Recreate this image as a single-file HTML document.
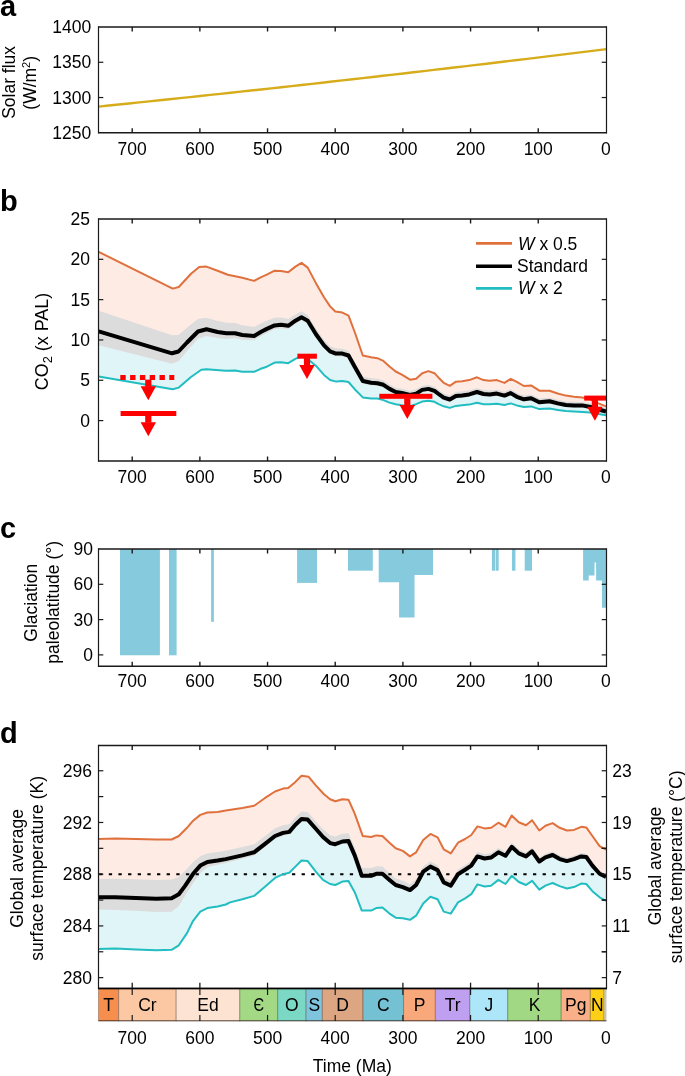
<!DOCTYPE html>
<html><head><meta charset="utf-8"><style>
html,body{margin:0;padding:0;background:#fff;}
svg{display:block;will-change:transform;font-family:"Liberation Sans", sans-serif;font-size:17.5px;fill:#000;}
</style></head><body>
<svg width="685" height="1076" viewBox="0 0 685 1076">
<text x="0" y="15.6" font-weight="bold" font-size="29">a</text>
<polyline points="98.5,106.6 108.66,105.56 118.82,104.52 128.98,103.47 139.14,102.42 149.3,101.36 159.46,100.3 169.62,99.23 179.78,98.16 189.94,97.09 200.1,96.01 210.26,94.93 220.42,93.84 230.58,92.74 240.74,91.65 250.9,90.54 261.06,89.44 271.22,88.33 281.38,87.21 291.54,86.09 301.7,84.97 311.86,83.84 322.02,82.7 332.18,81.56 342.34,80.42 352.5,79.27 362.66,78.12 372.82,76.96 382.98,75.8 393.14,74.64 403.3,73.47 413.46,72.29 423.62,71.11 433.78,69.93 443.94,68.74 454.1,67.55 464.26,66.35 474.42,65.15 484.58,63.94 494.74,62.73 504.9,61.51 515.06,60.29 525.22,59.07 535.38,57.84 545.54,56.61 555.7,55.37 565.86,54.12 576.02,52.88 586.18,51.62 596.34,50.37 606.5,49.11" fill="none" stroke="#D7AC1B" stroke-width="2.4"/>
<path d="M98.5,27H606.5M98.5,132.8H606.5" stroke="#1a1a1a" stroke-width="1.5" fill="none"/>
<path d="M98.5,26.25V133.55M606.5,26.25V133.55" stroke="#1a1a1a" stroke-width="1.2" fill="none"/>
<line x1="538.23" y1="132.8" x2="538.23" y2="128.3" stroke="#1a1a1a" stroke-width="1.4"/>
<line x1="538.23" y1="27" x2="538.23" y2="31.5" stroke="#1a1a1a" stroke-width="1.4"/>
<line x1="470.56" y1="132.8" x2="470.56" y2="128.3" stroke="#1a1a1a" stroke-width="1.4"/>
<line x1="470.56" y1="27" x2="470.56" y2="31.5" stroke="#1a1a1a" stroke-width="1.4"/>
<line x1="402.89" y1="132.8" x2="402.89" y2="128.3" stroke="#1a1a1a" stroke-width="1.4"/>
<line x1="402.89" y1="27" x2="402.89" y2="31.5" stroke="#1a1a1a" stroke-width="1.4"/>
<line x1="335.22" y1="132.8" x2="335.22" y2="128.3" stroke="#1a1a1a" stroke-width="1.4"/>
<line x1="335.22" y1="27" x2="335.22" y2="31.5" stroke="#1a1a1a" stroke-width="1.4"/>
<line x1="267.55" y1="132.8" x2="267.55" y2="128.3" stroke="#1a1a1a" stroke-width="1.4"/>
<line x1="267.55" y1="27" x2="267.55" y2="31.5" stroke="#1a1a1a" stroke-width="1.4"/>
<line x1="199.88" y1="132.8" x2="199.88" y2="128.3" stroke="#1a1a1a" stroke-width="1.4"/>
<line x1="199.88" y1="27" x2="199.88" y2="31.5" stroke="#1a1a1a" stroke-width="1.4"/>
<line x1="132.21" y1="132.8" x2="132.21" y2="128.3" stroke="#1a1a1a" stroke-width="1.4"/>
<line x1="132.21" y1="27" x2="132.21" y2="31.5" stroke="#1a1a1a" stroke-width="1.4"/>
<line x1="98.5" y1="97.53" x2="103.3" y2="97.53" stroke="#1a1a1a" stroke-width="1.2"/>
<line x1="606.5" y1="97.53" x2="601.7" y2="97.53" stroke="#1a1a1a" stroke-width="1.2"/>
<line x1="98.5" y1="62.27" x2="103.3" y2="62.27" stroke="#1a1a1a" stroke-width="1.2"/>
<line x1="606.5" y1="62.27" x2="601.7" y2="62.27" stroke="#1a1a1a" stroke-width="1.2"/>
<text x="605.9" y="154.8" text-anchor="middle">0</text>
<text x="538.23" y="154.8" text-anchor="middle">100</text>
<text x="470.56" y="154.8" text-anchor="middle">200</text>
<text x="402.89" y="154.8" text-anchor="middle">300</text>
<text x="335.22" y="154.8" text-anchor="middle">400</text>
<text x="267.55" y="154.8" text-anchor="middle">500</text>
<text x="199.88" y="154.8" text-anchor="middle">600</text>
<text x="132.21" y="154.8" text-anchor="middle">700</text>
<text x="91.3" y="138.9" text-anchor="end">1250</text>
<text x="91.3" y="103.63" text-anchor="end">1300</text>
<text x="91.3" y="68.37" text-anchor="end">1350</text>
<text x="91.3" y="33.1" text-anchor="end">1400</text>
<text transform="translate(14.9,82.4) rotate(-90)" text-anchor="middle">Solar flux</text>
<text transform="translate(35.5,82.8) rotate(-90)" text-anchor="middle">(W/m<tspan font-size="11" dy="-6">2</tspan><tspan dy="6">)</tspan></text>
<polygon points="98.7,251.9 172.7,288.6 178.8,287 191,273.7 199.2,267 206.4,266.6 217.6,270.7 227.8,274.7 242.3,277.8 254.1,280.9 260.7,277.4 266.8,274.7 274.6,270.7 281.1,271.1 288.2,272.3 295.4,266.6 301.5,262.9 307.7,267.6 315.8,282.9 324,297.2 330.1,306.4 335.3,311.5 342.4,312.6 348.5,315.6 354.7,332 362.8,355.5 371.1,357.2 377.3,358.2 383.4,360.9 389.5,366.4 395.7,371.5 401.8,374.6 410,379.7 416.1,378.7 422.2,373.2 428.4,371.1 434.5,373.2 438.6,377.7 443.7,382.8 449.8,385.8 455.9,381.7 462.1,381.3 469.2,380.1 477,377.3 483.5,380.1 489.7,380.7 496.8,380.1 504.5,382.9 510.7,378.8 516.8,381.9 523.9,386 531.1,385.4 539.3,390.7 549.5,390.7 557.7,393.5 565.8,395.6 574,396.8 582.2,397.6 590.4,399.3 598.5,403.4 606,406.4 606,411.5 598.5,409.5 590.4,407 582.2,405.4 574,405.4 565.8,405 557.7,403.4 549.5,401.3 539.3,402.3 531.1,398.2 523.9,399.3 516.8,396.8 510.7,393.1 504.5,395.6 496.8,393.6 489.7,394.4 483.5,394 477,392 469.2,394.4 462.1,395.4 455.9,396 449.8,399.5 443.7,397.7 438.6,394 434.5,390.9 428.4,388.9 422.2,389.9 416.1,393.6 410,395 401.8,393 395.7,392 389.5,388.9 383.4,384.8 377.3,383.2 371.1,382.8 362.8,381 354.7,366.7 348.5,355.5 342.4,353.6 335.3,353.4 330.1,351.4 324,345.3 315.8,334 307.7,320.7 301.5,317.3 295.4,320.7 288.2,325.8 281.1,324.8 274.6,325.4 266.8,328.9 260.7,332 254.1,336 242.3,335 235,333.2 226.4,333.3 217.6,332 206.5,329.3 198,331.5 187,342.5 178.5,351.5 172,353.3 98.7,331.3" fill="#FDEBE4"/>
<polygon points="98.7,331.3 172,353.3 178.5,351.5 187,342.5 198,331.5 206.5,329.3 217.6,332 226.4,333.3 235,333.2 242.3,335 254.1,336 260.7,332 266.8,328.9 274.6,325.4 281.1,324.8 288.2,325.8 295.4,320.7 301.5,317.3 307.7,320.7 315.8,334 324,345.3 330.1,351.4 335.3,353.4 342.4,353.6 348.5,355.5 354.7,366.7 362.8,381 371.1,382.8 377.3,383.2 383.4,384.8 389.5,388.9 395.7,392 401.8,393 410,395 416.1,393.6 422.2,389.9 428.4,388.9 434.5,390.9 438.6,394 443.7,397.7 449.8,399.5 455.9,396 462.1,395.4 469.2,394.4 477,392 483.5,394 489.7,394.4 496.8,393.6 504.5,395.6 510.7,393.1 516.8,396.8 523.9,399.3 531.1,398.2 539.3,402.3 549.5,401.3 557.7,403.4 565.8,405 574,405.4 582.2,405.4 590.4,407 598.5,409.5 606,411.5 606,415.2 598.5,414 590.4,412.6 582.2,411.9 574,411.5 565.8,411.1 557.7,409.9 549.5,408.5 539.3,409.1 531.1,406.4 523.9,407 516.8,405.4 510.7,403.4 504.5,405 496.8,403.8 489.7,404.2 483.5,404.2 477,402.8 469.2,404.6 462.1,405.3 455.9,405.9 449.8,407.9 443.7,406.3 438.6,404.2 434.5,401.8 428.4,400.8 422.2,401.6 416.1,404.2 410,406.3 401.8,405.3 395.7,404.2 389.5,402.6 383.4,400.1 377.3,398.5 371.1,398.5 362.8,397.4 354.7,389.2 348.5,382 342.4,381 336.3,381.6 330.1,380 324,374.9 315.8,365.7 307.7,359 301.5,356.1 295.4,358.9 288.2,363.2 281.1,362.2 274.6,362.6 266.8,366.7 260.7,368.8 254.1,371.8 242.3,371.8 235,370.4 225.8,370.8 206.4,369.2 201.3,369.8 191,377 178.8,387.6 172.7,389.2 98.7,376.5" fill="#E0F5F7"/>
<polygon points="98.7,310.82 172,335.3 178.5,334.89 187,327.71 198,319.07 206.5,317.65 217.6,320.94 226.4,322.71 235,323.07 242.3,325.26 254.1,327 260.7,323.43 266.8,320.73 274.6,317.74 281.1,317.56 288.2,319.03 295.4,314.4 301.5,311.34 307.7,314.89 315.8,328.39 324,339.9 330.1,346.15 335.3,348.28 342.4,348.66 348.5,350.71 354.7,362.07 362.8,376.51 371.1,378.35 377.3,378.78 383.4,380.4 389.5,384.53 395.7,387.66 401.8,388.69 410,390.72 416.1,389.35 422.2,385.68 428.4,384.71 434.5,386.73 438.6,389.85 443.7,393.57 449.8,395.4 455.9,391.93 462.1,391.36 469.2,390.39 477,388.02 483.5,390.05 489.7,390.48 496.8,389.71 504.5,391.75 510.7,389.27 516.8,393 523.9,395.53 531.1,394.47 539.3,398.6 549.5,397.65 557.7,399.78 565.8,401.42 574,401.86 582.2,401.89 590.4,403.53 598.5,406.07 606,408.1 606,413.7 598.5,411.71 590.4,409.23 582.2,407.64 574,407.65 565.8,407.27 557.7,405.68 549.5,403.59 539.3,404.61 531.1,400.52 523.9,401.63 516.8,399.15 510.7,395.45 504.5,397.97 496.8,395.98 489.7,396.79 483.5,396.4 477,394.41 469.2,396.82 462.1,397.83 455.9,398.44 449.8,401.95 443.7,400.16 438.6,396.47 434.5,393.38 428.4,391.39 422.2,392.4 416.1,396.11 410,397.52 401.8,395.53 395.7,394.54 389.5,391.45 383.4,387.36 377.3,385.77 371.1,385.38 362.8,383.6 354.7,369.35 348.5,358.21 342.4,356.38 335.3,356.25 330.1,354.3 324,348.26 315.8,337.04 307.7,323.82 301.5,320.49 295.4,324.02 288.2,329.3 281.1,328.48 274.6,329.25 266.8,332.95 260.7,336.2 254.1,340.37 242.3,339.74 235,338.33 226.4,338.89 217.6,338.06 206.5,335.95 198,338.75 187,351.12 178.5,361.19 172,363.8 98.7,345.27" fill="#DCDCDC"/>
<polyline points="98.7,251.9 172.7,288.6 178.8,287 191,273.7 199.2,267 206.4,266.6 217.6,270.7 227.8,274.7 242.3,277.8 254.1,280.9 260.7,277.4 266.8,274.7 274.6,270.7 281.1,271.1 288.2,272.3 295.4,266.6 301.5,262.9 307.7,267.6 315.8,282.9 324,297.2 330.1,306.4 335.3,311.5 342.4,312.6 348.5,315.6 354.7,332 362.8,355.5 371.1,357.2 377.3,358.2 383.4,360.9 389.5,366.4 395.7,371.5 401.8,374.6 410,379.7 416.1,378.7 422.2,373.2 428.4,371.1 434.5,373.2 438.6,377.7 443.7,382.8 449.8,385.8 455.9,381.7 462.1,381.3 469.2,380.1 477,377.3 483.5,380.1 489.7,380.7 496.8,380.1 504.5,382.9 510.7,378.8 516.8,381.9 523.9,386 531.1,385.4 539.3,390.7 549.5,390.7 557.7,393.5 565.8,395.6 574,396.8 582.2,397.6 590.4,399.3 598.5,403.4 606,406.4" fill="none" stroke="#E0703C" stroke-width="2" stroke-linejoin="round"/>
<polyline points="98.7,376.5 172.7,389.2 178.8,387.6 191,377 201.3,369.8 206.4,369.2 225.8,370.8 235,370.4 242.3,371.8 254.1,371.8 260.7,368.8 266.8,366.7 274.6,362.6 281.1,362.2 288.2,363.2 295.4,358.9 301.5,356.1 307.7,359 315.8,365.7 324,374.9 330.1,380 336.3,381.6 342.4,381 348.5,382 354.7,389.2 362.8,397.4 371.1,398.5 377.3,398.5 383.4,400.1 389.5,402.6 395.7,404.2 401.8,405.3 410,406.3 416.1,404.2 422.2,401.6 428.4,400.8 434.5,401.8 438.6,404.2 443.7,406.3 449.8,407.9 455.9,405.9 462.1,405.3 469.2,404.6 477,402.8 483.5,404.2 489.7,404.2 496.8,403.8 504.5,405 510.7,403.4 516.8,405.4 523.9,407 531.1,406.4 539.3,409.1 549.5,408.5 557.7,409.9 565.8,411.1 574,411.5 582.2,411.9 590.4,412.6 598.5,414 606,415.2" fill="none" stroke="#21BDC1" stroke-width="2" stroke-linejoin="round"/>
<polyline points="98.7,331.3 172,353.3 178.5,351.5 187,342.5 198,331.5 206.5,329.3 217.6,332 226.4,333.3 235,333.2 242.3,335 254.1,336 260.7,332 266.8,328.9 274.6,325.4 281.1,324.8 288.2,325.8 295.4,320.7 301.5,317.3 307.7,320.7 315.8,334 324,345.3 330.1,351.4 335.3,353.4 342.4,353.6 348.5,355.5 354.7,366.7 362.8,381 371.1,382.8 377.3,383.2 383.4,384.8 389.5,388.9 395.7,392 401.8,393 410,395 416.1,393.6 422.2,389.9 428.4,388.9 434.5,390.9 438.6,394 443.7,397.7 449.8,399.5 455.9,396 462.1,395.4 469.2,394.4 477,392 483.5,394 489.7,394.4 496.8,393.6 504.5,395.6 510.7,393.1 516.8,396.8 523.9,399.3 531.1,398.2 539.3,402.3 549.5,401.3 557.7,403.4 565.8,405 574,405.4 582.2,405.4 590.4,407 598.5,409.5 606,411.5" fill="none" stroke="#000" stroke-width="4" stroke-linejoin="round"/>
<line x1="120.3" y1="377.6" x2="174.3" y2="377.6" stroke="#FF0000" stroke-width="5.0" stroke-dasharray="5.4 4.4"/><rect x="145.2" y="379.6" width="6.2" height="7.2" fill="#FF0000"/><polygon points="140.6,386.3 156,386.3 148.3,400.3" fill="#FF0000"/>
<rect x="120.6" y="411" width="55.7" height="5" fill="#FF0000"/><rect x="145.2" y="415.5" width="6.2" height="7.2" fill="#FF0000"/><polygon points="140.6,422.2 156,422.2 148.3,436.2" fill="#FF0000"/>
<rect x="297.4" y="353.7" width="19.5" height="5" fill="#FF0000"/><rect x="303.9" y="358.2" width="6.2" height="7.2" fill="#FF0000"/><polygon points="299.3,364.9 314.7,364.9 307,378.9" fill="#FF0000"/>
<rect x="379.3" y="393.8" width="53.1" height="5" fill="#FF0000"/><rect x="404.2" y="398.3" width="6.2" height="7.2" fill="#FF0000"/><polygon points="399.6,405 415,405 407.3,419" fill="#FF0000"/>
<rect x="584.2" y="395.6" width="22.3" height="5" fill="#FF0000"/><rect x="591.8" y="400.1" width="6.2" height="7.2" fill="#FF0000"/><polygon points="587.2,406.8 602.6,406.8 594.9,420.8" fill="#FF0000"/>
<path d="M98.5,219H606.5M98.5,461H606.5" stroke="#1a1a1a" stroke-width="1.5" fill="none"/>
<path d="M98.5,218.25V461.75M606.5,218.25V461.75" stroke="#1a1a1a" stroke-width="1.2" fill="none"/>
<line x1="538.23" y1="461" x2="538.23" y2="456.5" stroke="#1a1a1a" stroke-width="1.4"/>
<line x1="538.23" y1="219" x2="538.23" y2="223.5" stroke="#1a1a1a" stroke-width="1.4"/>
<line x1="470.56" y1="461" x2="470.56" y2="456.5" stroke="#1a1a1a" stroke-width="1.4"/>
<line x1="470.56" y1="219" x2="470.56" y2="223.5" stroke="#1a1a1a" stroke-width="1.4"/>
<line x1="402.89" y1="461" x2="402.89" y2="456.5" stroke="#1a1a1a" stroke-width="1.4"/>
<line x1="402.89" y1="219" x2="402.89" y2="223.5" stroke="#1a1a1a" stroke-width="1.4"/>
<line x1="335.22" y1="461" x2="335.22" y2="456.5" stroke="#1a1a1a" stroke-width="1.4"/>
<line x1="335.22" y1="219" x2="335.22" y2="223.5" stroke="#1a1a1a" stroke-width="1.4"/>
<line x1="267.55" y1="461" x2="267.55" y2="456.5" stroke="#1a1a1a" stroke-width="1.4"/>
<line x1="267.55" y1="219" x2="267.55" y2="223.5" stroke="#1a1a1a" stroke-width="1.4"/>
<line x1="199.88" y1="461" x2="199.88" y2="456.5" stroke="#1a1a1a" stroke-width="1.4"/>
<line x1="199.88" y1="219" x2="199.88" y2="223.5" stroke="#1a1a1a" stroke-width="1.4"/>
<line x1="132.21" y1="461" x2="132.21" y2="456.5" stroke="#1a1a1a" stroke-width="1.4"/>
<line x1="132.21" y1="219" x2="132.21" y2="223.5" stroke="#1a1a1a" stroke-width="1.4"/>
<line x1="98.5" y1="259.32" x2="103.3" y2="259.32" stroke="#1a1a1a" stroke-width="1.2"/>
<line x1="606.5" y1="259.32" x2="601.7" y2="259.32" stroke="#1a1a1a" stroke-width="1.2"/>
<line x1="98.5" y1="299.64" x2="103.3" y2="299.64" stroke="#1a1a1a" stroke-width="1.2"/>
<line x1="606.5" y1="299.64" x2="601.7" y2="299.64" stroke="#1a1a1a" stroke-width="1.2"/>
<line x1="98.5" y1="339.96" x2="103.3" y2="339.96" stroke="#1a1a1a" stroke-width="1.2"/>
<line x1="606.5" y1="339.96" x2="601.7" y2="339.96" stroke="#1a1a1a" stroke-width="1.2"/>
<line x1="98.5" y1="380.28" x2="103.3" y2="380.28" stroke="#1a1a1a" stroke-width="1.2"/>
<line x1="606.5" y1="380.28" x2="601.7" y2="380.28" stroke="#1a1a1a" stroke-width="1.2"/>
<line x1="98.5" y1="420.6" x2="103.3" y2="420.6" stroke="#1a1a1a" stroke-width="1.2"/>
<line x1="606.5" y1="420.6" x2="601.7" y2="420.6" stroke="#1a1a1a" stroke-width="1.2"/>
<text x="605.9" y="483" text-anchor="middle">0</text>
<text x="538.23" y="483" text-anchor="middle">100</text>
<text x="470.56" y="483" text-anchor="middle">200</text>
<text x="402.89" y="483" text-anchor="middle">300</text>
<text x="335.22" y="483" text-anchor="middle">400</text>
<text x="267.55" y="483" text-anchor="middle">500</text>
<text x="199.88" y="483" text-anchor="middle">600</text>
<text x="132.21" y="483" text-anchor="middle">700</text>
<text x="90" y="225.1" text-anchor="end">25</text>
<text x="90" y="265.42" text-anchor="end">20</text>
<text x="90" y="305.74" text-anchor="end">15</text>
<text x="90" y="346.06" text-anchor="end">10</text>
<text x="90" y="386.38" text-anchor="end">5</text>
<text x="90" y="426.7" text-anchor="end">0</text>
<g font-size="17.9">
<text transform="translate(47.8,341.5) rotate(-90)" text-anchor="middle">CO<tspan font-size="12.8" dy="4.5">2</tspan><tspan dy="-4.5"> (x PAL)</tspan></text>
</g>
<line x1="476" y1="243.4" x2="512" y2="243.4" stroke="#E0703C" stroke-width="2.6"/>
<line x1="476" y1="266.3" x2="512" y2="266.3" stroke="#000" stroke-width="3.4"/>
<line x1="476" y1="288.4" x2="512" y2="288.4" stroke="#21BDC1" stroke-width="2.6"/>
<text x="518" y="249.5"><tspan font-style="italic">W</tspan> x 0.5</text>
<text x="517" y="271.6">Standard</text>
<text x="518" y="293.5"><tspan font-style="italic">W</tspan> x 2</text>
<text x="0" y="210.6" font-weight="bold" font-size="29">b</text>
<polygon points="120,549 120,655.3 159.9,655.3 159.9,549" fill="#86CADD"/>
<polygon points="169,549 169,655.3 176.6,655.3 176.6,549" fill="#86CADD"/>
<polygon points="211.1,549 211.1,621.8 213.9,621.8 213.9,549" fill="#86CADD"/>
<polygon points="297.1,549 297.1,582.9 317,582.9 317,549" fill="#86CADD"/>
<polygon points="348,549 348,570.7 372.8,570.7 372.8,549" fill="#86CADD"/>
<polygon points="378.7,549 378.7,582.3 399.1,582.3 399.1,617.4 414.5,617.4 414.5,575 433,575 433,549" fill="#86CADD"/>
<polygon points="491.9,549 491.9,570.7 495.3,570.7 495.3,549" fill="#86CADD"/>
<polygon points="495.8,549 495.8,570.7 498.7,570.7 498.7,549" fill="#86CADD"/>
<polygon points="512,549 512,570.7 515.5,570.7 515.5,549" fill="#86CADD"/>
<polygon points="524.7,549 524.7,570.7 532,570.7 532,549" fill="#86CADD"/>
<polygon points="583.1,549 583.1,580.4 588.7,580.4 588.7,575.6 594.5,575.6 594.5,562.6 596.1,562.6 596.1,580.4 602,580.4 602,607.8 606.5,607.8 606.5,549" fill="#86CADD"/>
<path d="M98.5,549H606.5M98.5,666.3H606.5" stroke="#1a1a1a" stroke-width="1.5" fill="none"/>
<path d="M98.5,548.25V667.05M606.5,548.25V667.05" stroke="#1a1a1a" stroke-width="1.2" fill="none"/>
<line x1="538.23" y1="666.3" x2="538.23" y2="661.8" stroke="#1a1a1a" stroke-width="1.4"/>
<line x1="538.23" y1="549" x2="538.23" y2="553.5" stroke="#1a1a1a" stroke-width="1.4"/>
<line x1="470.56" y1="666.3" x2="470.56" y2="661.8" stroke="#1a1a1a" stroke-width="1.4"/>
<line x1="470.56" y1="549" x2="470.56" y2="553.5" stroke="#1a1a1a" stroke-width="1.4"/>
<line x1="402.89" y1="666.3" x2="402.89" y2="661.8" stroke="#1a1a1a" stroke-width="1.4"/>
<line x1="402.89" y1="549" x2="402.89" y2="553.5" stroke="#1a1a1a" stroke-width="1.4"/>
<line x1="335.22" y1="666.3" x2="335.22" y2="661.8" stroke="#1a1a1a" stroke-width="1.4"/>
<line x1="335.22" y1="549" x2="335.22" y2="553.5" stroke="#1a1a1a" stroke-width="1.4"/>
<line x1="267.55" y1="666.3" x2="267.55" y2="661.8" stroke="#1a1a1a" stroke-width="1.4"/>
<line x1="267.55" y1="549" x2="267.55" y2="553.5" stroke="#1a1a1a" stroke-width="1.4"/>
<line x1="199.88" y1="666.3" x2="199.88" y2="661.8" stroke="#1a1a1a" stroke-width="1.4"/>
<line x1="199.88" y1="549" x2="199.88" y2="553.5" stroke="#1a1a1a" stroke-width="1.4"/>
<line x1="132.21" y1="666.3" x2="132.21" y2="661.8" stroke="#1a1a1a" stroke-width="1.4"/>
<line x1="132.21" y1="549" x2="132.21" y2="553.5" stroke="#1a1a1a" stroke-width="1.4"/>
<line x1="98.5" y1="584.3" x2="103.3" y2="584.3" stroke="#1a1a1a" stroke-width="1.2"/>
<line x1="606.5" y1="584.3" x2="601.7" y2="584.3" stroke="#1a1a1a" stroke-width="1.2"/>
<line x1="98.5" y1="619.6" x2="103.3" y2="619.6" stroke="#1a1a1a" stroke-width="1.2"/>
<line x1="606.5" y1="619.6" x2="601.7" y2="619.6" stroke="#1a1a1a" stroke-width="1.2"/>
<line x1="98.5" y1="654.9" x2="103.3" y2="654.9" stroke="#1a1a1a" stroke-width="1.2"/>
<line x1="606.5" y1="654.9" x2="601.7" y2="654.9" stroke="#1a1a1a" stroke-width="1.2"/>
<text x="605.9" y="687" text-anchor="middle">0</text>
<text x="538.23" y="687" text-anchor="middle">100</text>
<text x="470.56" y="687" text-anchor="middle">200</text>
<text x="402.89" y="687" text-anchor="middle">300</text>
<text x="335.22" y="687" text-anchor="middle">400</text>
<text x="267.55" y="687" text-anchor="middle">500</text>
<text x="199.88" y="687" text-anchor="middle">600</text>
<text x="132.21" y="687" text-anchor="middle">700</text>
<text x="92.9" y="555.1" text-anchor="end">90</text>
<text x="92.9" y="590.4" text-anchor="end">60</text>
<text x="92.9" y="625.7" text-anchor="end">30</text>
<text x="92.9" y="661" text-anchor="end">0</text>
<text transform="translate(37.3,602.8) rotate(-90)" text-anchor="middle">Glaciation</text>
<text transform="translate(58.5,602.3) rotate(-90)" text-anchor="middle">paleolatitude (°)</text>
<text x="0" y="538.3" font-weight="bold" font-size="29">c</text>
<polygon points="98.7,839 115.4,838.6 135.9,839 156.3,839.5 171.6,839.5 178.8,836 187,827.8 193.1,820.7 200.3,814.9 207.4,812.5 217.6,811.9 225.8,810.4 242.3,807.9 254.1,805.8 264.7,798.2 275,791.5 283.1,788.6 288.2,788 295.4,781.9 301.5,775.8 308.7,776.8 315.8,785.4 324,794.2 330.1,799.3 335.3,801.3 342.4,799.3 348.5,799.7 354.7,813.6 362.8,836.1 371.1,837 376.2,835.4 382.4,836 389.5,842.7 395.7,848.2 402.8,850.9 410,856.4 416.1,852.3 423.2,840.1 430.4,833.9 437.6,837.4 443.7,849.3 450.8,853.4 458,842.7 465.1,839 471.3,835 477.4,826.4 484.6,828.4 491.2,827.8 498.4,822.7 505.5,826.8 511.7,815.5 518.8,822.3 526,825.2 532.1,820.2 539.3,830.5 545.4,825.8 552.6,823.1 559.7,827.8 566.9,830.5 574,829.9 581.2,826.8 586.3,827.4 592.4,836 599.6,846.2 606,849.7 606,876.9 599.6,873.8 592.4,865.6 586.3,857 581.2,856.4 574,859.1 566.9,861.1 559.7,859.1 552.6,855 545.4,857.4 539.3,861.5 532.1,851.3 526,856.4 518.8,853.4 511.7,846.8 505.5,855.8 498.4,852.3 491,857.6 484.6,858.5 477.4,856.4 471.3,865.6 465.1,869.7 458,874.2 450.8,885.6 443.7,882.4 437.6,870.1 430.4,866.6 423.2,871.7 416.1,885 410,890.1 402.8,887.1 395.7,885 389.5,879.9 382.4,873.8 376.2,873.8 371.1,875.8 361.8,875.8 354.7,855.4 348.5,841.1 342.4,841.5 335.3,844.2 330.1,843.1 323,837 315.8,828.8 307.7,819.6 301.5,819 295.4,824.7 289.3,831.9 283.1,832.9 275,836 264.7,844.2 254.1,852.3 242.3,855.4 225.8,859.1 217.6,860.5 207.4,861.9 200.3,865.6 193.1,873.8 184.9,886.1 178.8,894.2 171.6,898.3 156.3,898.7 135.9,897.9 115.4,897.3 98.7,897.3" fill="#FDEBE4"/>
<polygon points="98.7,897.3 115.4,897.3 135.9,897.9 156.3,898.7 171.6,898.3 178.8,894.2 184.9,886.1 193.1,873.8 200.3,865.6 207.4,861.9 217.6,860.5 225.8,859.1 242.3,855.4 254.1,852.3 264.7,844.2 275,836 283.1,832.9 289.3,831.9 295.4,824.7 301.5,819 307.7,819.6 315.8,828.8 323,837 330.1,843.1 335.3,844.2 342.4,841.5 348.5,841.1 354.7,855.4 361.8,875.8 371.1,875.8 376.2,873.8 382.4,873.8 389.5,879.9 395.7,885 402.8,887.1 410,890.1 416.1,885 423.2,871.7 430.4,866.6 437.6,870.1 443.7,882.4 450.8,885.6 458,874.2 465.1,869.7 471.3,865.6 477.4,856.4 484.6,858.5 491,857.6 498.4,852.3 505.5,855.8 511.7,846.8 518.8,853.4 526,856.4 532.1,851.3 539.3,861.5 545.4,857.4 552.6,855 559.7,859.1 566.9,861.1 574,859.1 581.2,856.4 586.3,857 592.4,865.6 599.6,873.8 606,876.9 606,900.8 599.6,897.3 592.4,891.2 586.3,884 581.2,883.6 574,887.1 566.9,888.5 559.7,886.1 552.6,883 545.4,885.6 539.3,889.7 532.1,880.9 526,885 518.8,882 511.7,875.8 505.5,884 498.4,879.9 491,885.8 484.6,886.5 477.4,884.4 471.3,894.2 465.1,898.3 458,902.4 450.8,913.6 443.7,911.6 437.6,899.3 430.4,896.7 423.2,903.4 416.1,915.7 410,919.8 402.8,918.3 395.7,917.7 389.5,913.6 382.4,907.5 376.2,908.1 371.1,910.6 361.8,910.6 354.7,892.2 348.5,880.9 342.4,881.6 335.3,885 330.1,884 323,879.9 315.8,871.7 307.7,861.1 301.5,860.5 295.4,866.6 289.3,872.8 283.1,874.2 275,877.9 264.7,887.1 254.1,895.9 242.3,899.3 230,902.4 225.8,904.5 217.6,906.5 207.4,908.1 200.3,911.6 193.1,920.8 187,933.1 178.8,945.3 171.6,949.8 156.3,950.2 135.9,949.4 115.4,948.6 98.7,949" fill="#E0F5F7"/>
<polygon points="98.7,878.9 115.4,878.81 135.9,879.3 156.3,879.98 171.6,879.5 178.8,876.93 184.9,870.99 193.1,861.93 200.3,856.15 207.4,853.5 217.6,852.1 225.8,850.7 242.3,847.1 254.1,844.16 264.7,836.21 275,828.15 283.1,825.17 289.3,824.25 295.4,817.14 301.5,811.49 307.7,812.04 315.8,821.18 323,829.32 330.1,835.37 335.3,836.43 342.4,833.67 348.5,833.23 354.7,847.48 361.8,867.82 371.1,868.08 376.2,866.32 382.4,866.6 389.5,873.03 395.7,878.42 402.8,880.84 410,884.18 416.1,879.36 423.2,866.39 430.4,861.6 437.6,865.19 443.7,877.56 450.8,880.84 458,869.52 465.1,865.1 471.3,861.07 477.4,851.94 484.6,854.12 491,853.29 498.4,848.08 505.5,851.66 511.7,842.73 518.8,849.41 526,852.49 532.1,847.46 539.3,857.74 545.4,853.71 552.6,851.39 559.7,855.57 566.9,857.66 574,855.74 581.2,853.12 586.3,853.78 592.4,862.45 599.6,870.73 606,873.9 606,878.7 599.6,875.61 592.4,867.43 586.3,858.85 581.2,858.26 574,860.97 566.9,862.99 559.7,861.01 552.6,856.92 545.4,859.34 539.3,863.45 532.1,853.27 526,858.38 518.8,855.4 511.7,848.82 505.5,857.83 498.4,854.35 491,859.66 484.6,860.58 477.4,858.49 471.3,867.71 465.1,871.82 458,876.34 450.8,887.76 443.7,884.57 437.6,872.29 430.4,868.8 423.2,873.92 416.1,887.23 410,892.35 402.8,889.36 395.7,887.28 389.5,882.2 382.4,876.11 376.2,876.13 371.1,878.14 361.8,878.16 354.7,857.77 348.5,843.49 342.4,843.9 335.3,846.62 330.1,845.53 323,839.45 315.8,831.26 307.7,822.08 301.5,821.5 295.4,827.27 289.3,834.56 283.1,835.66 275,838.88 264.7,847.24 254.1,855.51 242.3,858.79 225.8,863.02 217.6,864.8 207.4,867.16 200.3,873.24 193.1,882.88 184.9,896.04 178.8,905.93 171.6,911.79 156.3,911.95 135.9,910.81 115.4,909.88 98.7,909.61" fill="#DCDCDC"/>
<line x1="99.16" y1="874.2" x2="606.5" y2="874.2" stroke="#000" stroke-width="1.9" stroke-dasharray="3.3 6.34"/>
<polyline points="98.7,839 115.4,838.6 135.9,839 156.3,839.5 171.6,839.5 178.8,836 187,827.8 193.1,820.7 200.3,814.9 207.4,812.5 217.6,811.9 225.8,810.4 242.3,807.9 254.1,805.8 264.7,798.2 275,791.5 283.1,788.6 288.2,788 295.4,781.9 301.5,775.8 308.7,776.8 315.8,785.4 324,794.2 330.1,799.3 335.3,801.3 342.4,799.3 348.5,799.7 354.7,813.6 362.8,836.1 371.1,837 376.2,835.4 382.4,836 389.5,842.7 395.7,848.2 402.8,850.9 410,856.4 416.1,852.3 423.2,840.1 430.4,833.9 437.6,837.4 443.7,849.3 450.8,853.4 458,842.7 465.1,839 471.3,835 477.4,826.4 484.6,828.4 491.2,827.8 498.4,822.7 505.5,826.8 511.7,815.5 518.8,822.3 526,825.2 532.1,820.2 539.3,830.5 545.4,825.8 552.6,823.1 559.7,827.8 566.9,830.5 574,829.9 581.2,826.8 586.3,827.4 592.4,836 599.6,846.2 606,849.7" fill="none" stroke="#E0703C" stroke-width="2" stroke-linejoin="round"/>
<polyline points="98.7,949 115.4,948.6 135.9,949.4 156.3,950.2 171.6,949.8 178.8,945.3 187,933.1 193.1,920.8 200.3,911.6 207.4,908.1 217.6,906.5 225.8,904.5 230,902.4 242.3,899.3 254.1,895.9 264.7,887.1 275,877.9 283.1,874.2 289.3,872.8 295.4,866.6 301.5,860.5 307.7,861.1 315.8,871.7 323,879.9 330.1,884 335.3,885 342.4,881.6 348.5,880.9 354.7,892.2 361.8,910.6 371.1,910.6 376.2,908.1 382.4,907.5 389.5,913.6 395.7,917.7 402.8,918.3 410,919.8 416.1,915.7 423.2,903.4 430.4,896.7 437.6,899.3 443.7,911.6 450.8,913.6 458,902.4 465.1,898.3 471.3,894.2 477.4,884.4 484.6,886.5 491,885.8 498.4,879.9 505.5,884 511.7,875.8 518.8,882 526,885 532.1,880.9 539.3,889.7 545.4,885.6 552.6,883 559.7,886.1 566.9,888.5 574,887.1 581.2,883.6 586.3,884 592.4,891.2 599.6,897.3 606,900.8" fill="none" stroke="#21BDC1" stroke-width="2" stroke-linejoin="round"/>
<polyline points="98.7,897.3 115.4,897.3 135.9,897.9 156.3,898.7 171.6,898.3 178.8,894.2 184.9,886.1 193.1,873.8 200.3,865.6 207.4,861.9 217.6,860.5 225.8,859.1 242.3,855.4 254.1,852.3 264.7,844.2 275,836 283.1,832.9 289.3,831.9 295.4,824.7 301.5,819 307.7,819.6 315.8,828.8 323,837 330.1,843.1 335.3,844.2 342.4,841.5 348.5,841.1 354.7,855.4 361.8,875.8 371.1,875.8 376.2,873.8 382.4,873.8 389.5,879.9 395.7,885 402.8,887.1 410,890.1 416.1,885 423.2,871.7 430.4,866.6 437.6,870.1 443.7,882.4 450.8,885.6 458,874.2 465.1,869.7 471.3,865.6 477.4,856.4 484.6,858.5 491,857.6 498.4,852.3 505.5,855.8 511.7,846.8 518.8,853.4 526,856.4 532.1,851.3 539.3,861.5 545.4,857.4 552.6,855 559.7,859.1 566.9,861.1 574,859.1 581.2,856.4 586.3,857 592.4,865.6 599.6,873.8 606,876.9" fill="none" stroke="#000" stroke-width="4" stroke-linejoin="round"/>
<path d="M98.5,745.4H606.5M98.5,988.5H606.5" stroke="#1a1a1a" stroke-width="1.5" fill="none"/>
<path d="M98.5,744.65V989.25M606.5,744.65V989.25" stroke="#1a1a1a" stroke-width="1.2" fill="none"/>
<line x1="538.23" y1="745.4" x2="538.23" y2="749.9" stroke="#1a1a1a" stroke-width="1.4"/>
<line x1="470.56" y1="745.4" x2="470.56" y2="749.9" stroke="#1a1a1a" stroke-width="1.4"/>
<line x1="402.89" y1="745.4" x2="402.89" y2="749.9" stroke="#1a1a1a" stroke-width="1.4"/>
<line x1="335.22" y1="745.4" x2="335.22" y2="749.9" stroke="#1a1a1a" stroke-width="1.4"/>
<line x1="267.55" y1="745.4" x2="267.55" y2="749.9" stroke="#1a1a1a" stroke-width="1.4"/>
<line x1="199.88" y1="745.4" x2="199.88" y2="749.9" stroke="#1a1a1a" stroke-width="1.4"/>
<line x1="132.21" y1="745.4" x2="132.21" y2="749.9" stroke="#1a1a1a" stroke-width="1.4"/>
<line x1="98.5" y1="977.64" x2="103.3" y2="977.64" stroke="#1a1a1a" stroke-width="1.2"/>
<line x1="98.5" y1="951.78" x2="103.3" y2="951.78" stroke="#1a1a1a" stroke-width="1.2"/>
<line x1="98.5" y1="925.92" x2="103.3" y2="925.92" stroke="#1a1a1a" stroke-width="1.2"/>
<line x1="98.5" y1="900.06" x2="103.3" y2="900.06" stroke="#1a1a1a" stroke-width="1.2"/>
<line x1="98.5" y1="874.2" x2="103.3" y2="874.2" stroke="#1a1a1a" stroke-width="1.2"/>
<line x1="98.5" y1="848.34" x2="103.3" y2="848.34" stroke="#1a1a1a" stroke-width="1.2"/>
<line x1="98.5" y1="822.48" x2="103.3" y2="822.48" stroke="#1a1a1a" stroke-width="1.2"/>
<line x1="98.5" y1="796.62" x2="103.3" y2="796.62" stroke="#1a1a1a" stroke-width="1.2"/>
<line x1="98.5" y1="770.76" x2="103.3" y2="770.76" stroke="#1a1a1a" stroke-width="1.2"/>
<line x1="606.5" y1="977.64" x2="601.7" y2="977.64" stroke="#1a1a1a" stroke-width="1.2"/>
<line x1="606.5" y1="951.78" x2="601.7" y2="951.78" stroke="#1a1a1a" stroke-width="1.2"/>
<line x1="606.5" y1="925.92" x2="601.7" y2="925.92" stroke="#1a1a1a" stroke-width="1.2"/>
<line x1="606.5" y1="900.06" x2="601.7" y2="900.06" stroke="#1a1a1a" stroke-width="1.2"/>
<line x1="606.5" y1="874.2" x2="601.7" y2="874.2" stroke="#1a1a1a" stroke-width="1.2"/>
<line x1="606.5" y1="848.34" x2="601.7" y2="848.34" stroke="#1a1a1a" stroke-width="1.2"/>
<line x1="606.5" y1="822.48" x2="601.7" y2="822.48" stroke="#1a1a1a" stroke-width="1.2"/>
<line x1="606.5" y1="796.62" x2="601.7" y2="796.62" stroke="#1a1a1a" stroke-width="1.2"/>
<line x1="606.5" y1="770.76" x2="601.7" y2="770.76" stroke="#1a1a1a" stroke-width="1.2"/>
<line x1="606.5" y1="951.78" x2="601.7" y2="951.78" stroke="#1a1a1a" stroke-width="1.2"/>
<line x1="606.5" y1="900.06" x2="601.7" y2="900.06" stroke="#1a1a1a" stroke-width="1.2"/>
<line x1="606.5" y1="848.34" x2="601.7" y2="848.34" stroke="#1a1a1a" stroke-width="1.2"/>
<line x1="606.5" y1="796.62" x2="601.7" y2="796.62" stroke="#1a1a1a" stroke-width="1.2"/>
<text x="92" y="983.74" text-anchor="end">280</text>
<text x="92" y="932.02" text-anchor="end">284</text>
<text x="92" y="880.3" text-anchor="end">288</text>
<text x="92" y="828.58" text-anchor="end">292</text>
<text x="92" y="776.86" text-anchor="end">296</text>
<text x="612.2" y="983.74" text-anchor="start">7</text>
<text x="612.2" y="932.02" text-anchor="start">11</text>
<text x="612.2" y="880.3" text-anchor="start">15</text>
<text x="612.2" y="828.58" text-anchor="start">19</text>
<text x="612.2" y="776.86" text-anchor="start">23</text>
<text transform="translate(23,868.4) rotate(-90)" text-anchor="middle">Global average</text>
<text transform="translate(43.4,868.4) rotate(-90)" text-anchor="middle">surface temperature (K)</text>
<text transform="translate(660.5,866) rotate(-90)" text-anchor="middle">Global average</text>
<text transform="translate(681.5,866.8) rotate(-90)" text-anchor="middle">surface temperature (°C)</text>
<text x="0" y="743.3" font-weight="bold" font-size="29">d</text>
<rect x="98.5" y="989" width="20.18" height="32" fill="#F68F4D" stroke="rgba(60,40,30,0.33)" stroke-width="1"/>
<rect x="118.68" y="989" width="57.52" height="32" fill="#FCC7A3" stroke="rgba(60,40,30,0.33)" stroke-width="1"/>
<rect x="176.2" y="989" width="63.61" height="32" fill="#FDE3D2" stroke="rgba(60,40,30,0.33)" stroke-width="1"/>
<rect x="239.81" y="989" width="37.9" height="32" fill="#A3D985" stroke="rgba(60,40,30,0.33)" stroke-width="1"/>
<rect x="277.7" y="989" width="28.42" height="32" fill="#7AD8C4" stroke="rgba(60,40,30,0.33)" stroke-width="1"/>
<rect x="306.12" y="989" width="16.24" height="32" fill="#7FC4DD" stroke="rgba(60,40,30,0.33)" stroke-width="1"/>
<rect x="322.36" y="989" width="40.6" height="32" fill="#DDA682" stroke="rgba(60,40,30,0.33)" stroke-width="1"/>
<rect x="362.96" y="989" width="40.6" height="32" fill="#73C1D3" stroke="rgba(60,40,30,0.33)" stroke-width="1"/>
<rect x="403.57" y="989" width="31.8" height="32" fill="#F9A87B" stroke="rgba(60,40,30,0.33)" stroke-width="1"/>
<rect x="435.37" y="989" width="34.51" height="32" fill="#BFA0F0" stroke="rgba(60,40,30,0.33)" stroke-width="1"/>
<rect x="469.88" y="989" width="37.9" height="32" fill="#ADE6F9" stroke="rgba(60,40,30,0.33)" stroke-width="1"/>
<rect x="507.78" y="989" width="53.46" height="32" fill="#A1D884" stroke="rgba(60,40,30,0.33)" stroke-width="1"/>
<rect x="561.24" y="989" width="29.1" height="32" fill="#F9AF87" stroke="rgba(60,40,30,0.33)" stroke-width="1"/>
<rect x="590.34" y="989" width="13.8" height="32" fill="#FDD017" stroke="rgba(60,40,30,0.33)" stroke-width="1"/>
<rect x="604.14" y="989" width="1.76" height="32" fill="#F4EEA8" stroke="rgba(60,40,30,0.33)" stroke-width="1"/>
<text x="108.59" y="1010.9" text-anchor="middle">T</text>
<text x="147.44" y="1010.9" text-anchor="middle">Cr</text>
<text x="208" y="1010.9" text-anchor="middle">Ed</text>
<text transform="translate(258.75,1010.9) scale(0.84,1)" text-anchor="middle">Є</text>
<text x="291.91" y="1010.9" text-anchor="middle">O</text>
<text x="314.24" y="1010.9" text-anchor="middle">S</text>
<text x="342.66" y="1010.9" text-anchor="middle">D</text>
<text x="383.27" y="1010.9" text-anchor="middle">C</text>
<text x="419.47" y="1010.9" text-anchor="middle">P</text>
<text x="452.63" y="1010.9" text-anchor="middle">Tr</text>
<text x="488.83" y="1010.9" text-anchor="middle">J</text>
<text x="534.51" y="1010.9" text-anchor="middle">K</text>
<text x="575.79" y="1010.9" text-anchor="middle">Pg</text>
<text x="597.24" y="1010.9" text-anchor="middle">N</text>
<line x1="98.5" y1="1020.6" x2="606.5" y2="1020.6" stroke="rgba(40,30,20,0.5)" stroke-width="1.4"/>
<line x1="538.23" y1="989" x2="538.23" y2="995" stroke="#1a1a1a" stroke-width="1.2"/>
<line x1="538.23" y1="1021" x2="538.23" y2="1015" stroke="#1a1a1a" stroke-width="1.2"/>
<line x1="538.23" y1="988.5" x2="538.23" y2="982.7" stroke="#1a1a1a" stroke-width="1.3"/>
<line x1="470.56" y1="989" x2="470.56" y2="995" stroke="#1a1a1a" stroke-width="1.2"/>
<line x1="470.56" y1="1021" x2="470.56" y2="1015" stroke="#1a1a1a" stroke-width="1.2"/>
<line x1="470.56" y1="988.5" x2="470.56" y2="982.7" stroke="#1a1a1a" stroke-width="1.3"/>
<line x1="402.89" y1="989" x2="402.89" y2="995" stroke="#1a1a1a" stroke-width="1.2"/>
<line x1="402.89" y1="1021" x2="402.89" y2="1015" stroke="#1a1a1a" stroke-width="1.2"/>
<line x1="402.89" y1="988.5" x2="402.89" y2="982.7" stroke="#1a1a1a" stroke-width="1.3"/>
<line x1="335.22" y1="989" x2="335.22" y2="995" stroke="#1a1a1a" stroke-width="1.2"/>
<line x1="335.22" y1="1021" x2="335.22" y2="1015" stroke="#1a1a1a" stroke-width="1.2"/>
<line x1="335.22" y1="988.5" x2="335.22" y2="982.7" stroke="#1a1a1a" stroke-width="1.3"/>
<line x1="267.55" y1="989" x2="267.55" y2="995" stroke="#1a1a1a" stroke-width="1.2"/>
<line x1="267.55" y1="1021" x2="267.55" y2="1015" stroke="#1a1a1a" stroke-width="1.2"/>
<line x1="267.55" y1="988.5" x2="267.55" y2="982.7" stroke="#1a1a1a" stroke-width="1.3"/>
<line x1="199.88" y1="989" x2="199.88" y2="995" stroke="#1a1a1a" stroke-width="1.2"/>
<line x1="199.88" y1="1021" x2="199.88" y2="1015" stroke="#1a1a1a" stroke-width="1.2"/>
<line x1="199.88" y1="988.5" x2="199.88" y2="982.7" stroke="#1a1a1a" stroke-width="1.3"/>
<line x1="132.21" y1="989" x2="132.21" y2="995" stroke="#1a1a1a" stroke-width="1.2"/>
<line x1="132.21" y1="1021" x2="132.21" y2="1015" stroke="#1a1a1a" stroke-width="1.2"/>
<line x1="132.21" y1="988.5" x2="132.21" y2="982.7" stroke="#1a1a1a" stroke-width="1.3"/>
<line x1="98.5" y1="988.5" x2="606.5" y2="988.5" stroke="#000" stroke-width="1.6"/>
<text x="605.9" y="1043.6" text-anchor="middle">0</text>
<text x="538.23" y="1043.6" text-anchor="middle">100</text>
<text x="470.56" y="1043.6" text-anchor="middle">200</text>
<text x="402.89" y="1043.6" text-anchor="middle">300</text>
<text x="335.22" y="1043.6" text-anchor="middle">400</text>
<text x="267.55" y="1043.6" text-anchor="middle">500</text>
<text x="199.88" y="1043.6" text-anchor="middle">600</text>
<text x="132.21" y="1043.6" text-anchor="middle">700</text>
<text x="352.3" y="1071.5" text-anchor="middle">Time (Ma)</text>
</svg>
</body></html>
